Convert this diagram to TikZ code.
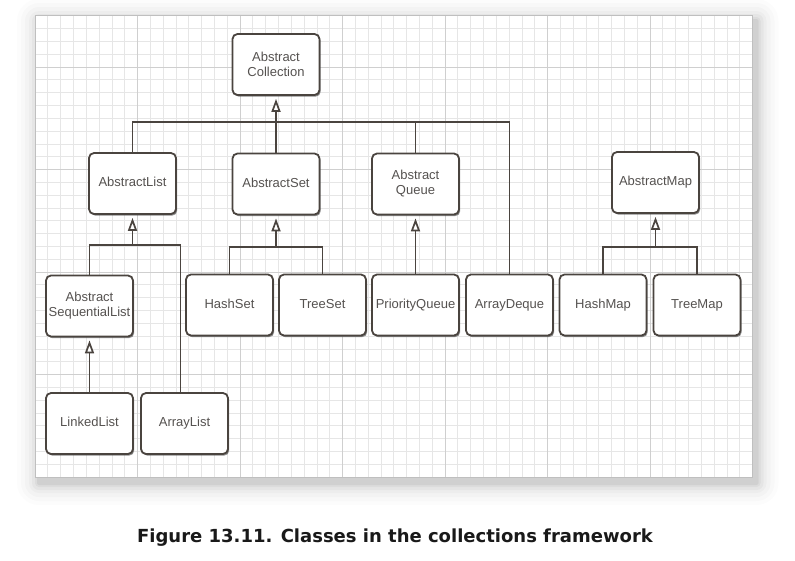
\documentclass[tikz,border=0pt]{standalone}
\usepackage{fontspec}
\setmainfont{Liberation Sans}
\newfontfamily\capfont{DejaVu Sans}
\usetikzlibrary{arrows.meta,shadows}
\definecolor{inkline}{HTML}{4A443F}
\definecolor{inktext}{HTML}{555250}
\definecolor{gridminor}{HTML}{E6E6E6}
\definecolor{gridmajor}{HTML}{CFCFCF}
\begin{document}
\begin{tikzpicture}[
    x=1pt, y=-1pt,
    cls/.style={draw=inkline, line width=1.8pt, rounded corners=5pt, fill=white,
        minimum width=87pt, minimum height=61pt, inner sep=0pt, align=center,
        text=inktext, font=\fontsize{13}{15}\selectfont,
        drop shadow={shadow xshift=1.2pt, shadow yshift=-1.6pt, fill=black!75, opacity=0.6}},
    oneline/.style={cls, text height=9.4pt, text depth=2.8pt},
    conn/.style={draw=inkline, line width=1.7pt},
    inh/.style={conn, -{Triangle[open, fill=white, length=13pt, width=9pt]}, shorten >=3pt}
]
\useasboundingbox[fill=white] (0,0) rectangle (795,560);
% paper with grid
\foreach \s/\o in {22/0.012, 18/0.015, 14/0.02, 10/0.025, 7/0.03, 4/0.04, 2/0.05}
    \fill[black, opacity=\o, rounded corners=\s pt] (35-\s+4,15-\s+6) rectangle (752.5+\s+4,477+\s+6);
\fill[white] (35,15) rectangle (752.5,477);
\foreach \i in {0,...,56}
    \draw[gridminor, line width=0.7pt] ({35+\i*12.8125},15) -- ++(0,462);
\foreach \j in {0,...,36}
    \draw[gridminor, line width=0.7pt] (35,{477-\j*12.8125}) -- ++(717.5,0);
\foreach \i in {0,...,7}
    \draw[gridmajor, line width=0.9pt] ({35+\i*102.5},15) -- ++(0,462);
\foreach \j in {0,...,4}
    \draw[gridmajor, line width=0.9pt] (35,{477-\j*102.5}) -- ++(717.5,0);
\draw[black!25, line width=0.8pt] (35,15) rectangle (752.5,477);
% classes
\node[cls] (coll) at (276,64.5) {Abstract\\Collection};
\node[oneline] (alist) at (132.5,183.5) {AbstractList};
\node[oneline] (aset) at (276,184) {AbstractSet};
\node[cls] (aqueue) at (415.5,184) {Abstract\\Queue};
\node[oneline] (amap) at (655.5,182.5) {AbstractMap};
\node[cls] (seqlist) at (89.5,306) {Abstract\\SequentialList};
\node[oneline] (hashset) at (229.5,305) {HashSet};
\node[oneline] (treeset) at (322.5,305) {TreeSet};
\node[oneline] (pqueue) at (415.5,305) {PriorityQueue};
\node[oneline] (deque) at (509.5,305) {ArrayDeque};
\node[oneline] (hashmap) at (603,305) {HashMap};
\node[oneline] (treemap) at (697,305) {TreeMap};
\node[oneline] (linked) at (89.5,423.5) {LinkedList};
\node[oneline] (arraylist) at (184.5,423.5) {ArrayList};
% inheritance
\coordinate (topbus) at (276,122);
\coordinate (listbus) at (132.5,245);
\coordinate (setbus) at (276,247);
\coordinate (mapbus) at (655.5,247);
\draw[conn] (alist.north) |- (topbus) -| (deque.north);
\draw[conn] (aqueue.north) -- (aqueue.north |- topbus);
\draw[inh] (aset.north) -- (coll.south);
\draw[conn] (seqlist.north) |- (listbus) -| ([xshift=-4pt]arraylist.north);
\draw[inh] (listbus) -- (alist.south);
\draw[conn] (hashset.north) |- (setbus) -| (treeset.north);
\draw[inh] (setbus) -- (aset.south);
\draw[inh] (pqueue.north) -- (aqueue.south);
\draw[conn] (hashmap.north) |- (mapbus) -| (treemap.north);
\draw[inh] (mapbus) -- (amap.south);
\draw[inh] (linked.north) -- (seqlist.south);
% caption
\node[anchor=base, text=black!90, font=\capfont\bfseries\fontsize{18}{22}\selectfont] (caption) at (395,542)
    {Figure 13.11. Classes in the collections framework};
\end{tikzpicture}
\end{document}
